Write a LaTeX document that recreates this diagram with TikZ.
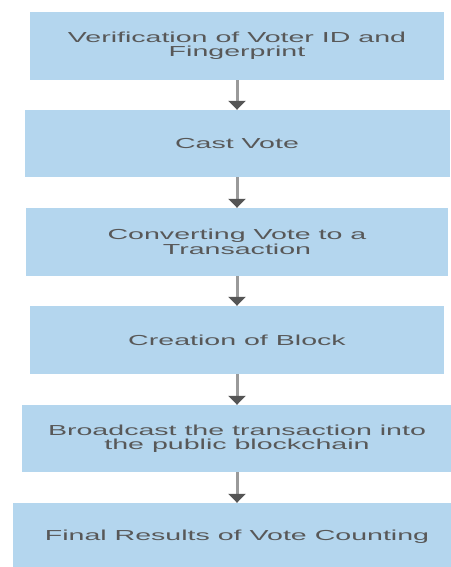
\documentclass[tikz,border=0pt]{standalone}
\usepackage{fontspec}
\setmainfont[FakeStretch=1.97]{Liberation Sans}
\usetikzlibrary{arrows.meta}
\definecolor{boxblue}{HTML}{B4D6EE}
\definecolor{txtgray}{HTML}{585858}
\definecolor{shaftgray}{HTML}{9A9A9A}
\definecolor{headgray}{HTML}{555555}
\tikzset{
  stepbox/.style={fill=boxblue, draw=none, inner sep=0pt, align=center,
    text=txtgray, font=\fontsize{14.5}{14.5}\selectfont, minimum height=68pt},
  flowarrow/.style={draw=shaftgray, line width=3pt,
    -{Triangle[width=17pt,length=9pt,color=headgray]}}
}
\begin{document}
\begin{tikzpicture}[x=1pt,y=-1pt]
\useasboundingbox (0,0) rectangle (450,567);
\fill[white] (0,0) rectangle (450,567);
\node[stepbox, minimum width=414pt] (b1) at (237,46) {Verification of Voter ID and\\Fingerprint};
\node[stepbox, minimum width=425pt, minimum height=67pt] (b2) at (237,143.5) {Cast Vote};
\node[stepbox, minimum width=422pt] (b3) at (237,242) {Converting Vote to a\\Transaction};
\node[stepbox, minimum width=414pt] (b4) at (237,340) {Creation of Block};
\node[stepbox, minimum width=430pt, minimum height=67pt] (b5) at (237,438.5) {Broadcast the transaction into\\the public blockchain};
\node[stepbox, minimum width=448pt] (b6) at (237,537) {Final Results of Vote Counting};
\draw[flowarrow] (b1.south) -- (b2.north);
\draw[flowarrow] (b2.south) -- (b3.north);
\draw[flowarrow] (b3.south) -- (b4.north);
\draw[flowarrow] (b4.south) -- (b5.north);
\draw[flowarrow] (b5.south) -- (b6.north);
\end{tikzpicture}
\end{document}
